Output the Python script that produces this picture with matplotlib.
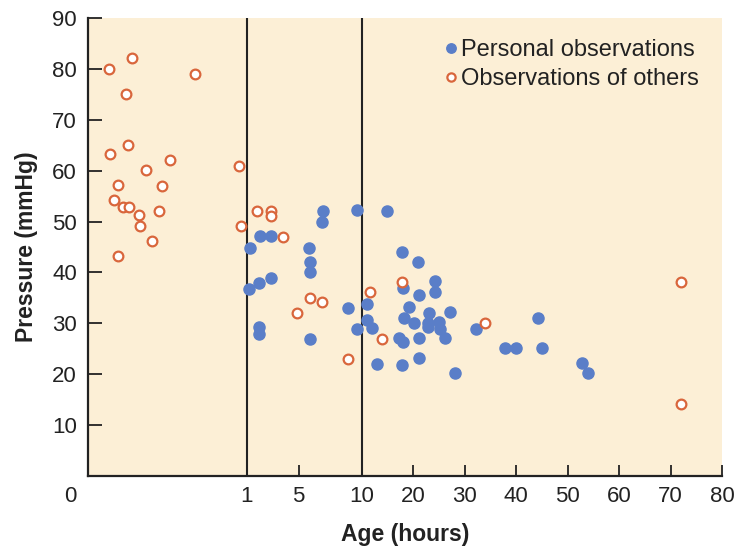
import numpy as np
import matplotlib

matplotlib.use("Agg")
import matplotlib.pyplot as plt
from matplotlib.transforms import ScaledTranslation

# -----------------------------
# DATA
# -----------------------------
personal_age = [
    1.29, 2.01, 2.88, 1.19, 1.96, 2.88, 1.94, 1.98,
    5.85, 5.88, 5.91, 5.87, 6.96, 6.88, 8.95, 9.60, 9.59,
    11.13, 11.13, 12.04, 12.95, 14.96, 17.93, 20.92, 18.01,
    24.15, 24.15, 21.04, 19.23, 18.13, 20.21, 23.12, 27.20,
    22.87, 22.87, 24.93, 25.12, 26.10, 17.29, 18.01, 21.18,
    17.93, 21.04, 28.04, 32.16, 37.90, 40.03, 44.31, 44.95,
    52.86, 53.89,
]
personal_pressure = [
    44.8, 47.2, 47.2, 36.7, 38.0, 39.0, 29.2, 27.9,
    44.9, 42.1, 40.1, 26.9, 52.0, 50.0, 33.1, 52.3, 28.9,
    33.8, 30.7, 29.1, 22.0, 52.0, 44.0, 42.1, 36.9,
    38.4, 36.2, 35.5, 33.3, 31.0, 30.1, 32.0, 32.3,
    30.1, 29.2, 30.3, 28.8, 27.2, 27.2, 26.4, 27.1,
    21.9, 23.1, 20.2, 28.9, 25.1, 25.1, 31.1, 25.2,
    22.3, 20.2,
]

others_age = [
    0.134, 0.279, 0.675, 0.238, 0.252, 0.137, 0.515, 0.366,
    0.187, 0.467, 0.164, 0.223, 0.257, 0.320, 0.330, 0.446,
    0.404, 0.187, 0.955, 0.964, 1.81, 2.84, 2.84, 3.80,
    4.84, 5.87, 6.86, 8.93, 11.56, 13.93, 17.93, 33.91,
    72.11, 72.11,
]
others_pressure = [
    80.0, 82.1, 79.0, 75.1, 65.0, 63.2, 62.0, 60.1,
    57.1, 57.0, 54.2, 52.9, 52.9, 51.3, 49.2, 52.1,
    46.2, 43.2, 61.0, 49.1, 52.1, 52.1, 51.1, 47.0,
    32.1, 35.0, 34.1, 23.0, 36.2, 27.0, 38.1, 30.0,
    38.1, 14.1,
]

x_ticks = [0, 1, 5, 10, 20, 30, 40, 50, 60, 70, 80]
y_ticks = [10, 20, 30, 40, 50, 60, 70, 80, 90]
divider_ages = [1, 10]

# piecewise axis: break points (age) and their relative widths on the axis
AGE_BREAKS = [0, 1, 5, 10, 80]
POS_BREAKS = [0, 158.5, 210.6, 273.5, 633.6]


def forward(a):
    return np.interp(a, AGE_BREAKS, POS_BREAKS)


def inverse(p):
    return np.interp(p, POS_BREAKS, AGE_BREAKS)


def main():
    plt.rcParams["font.family"] = ["Liberation Sans", "DejaVu Sans"]

    BG = "#fcefd6"
    BLUE = "#5a7ec8"
    ORANGE = "#d9663c"
    INK = "#222222"

    fig = plt.figure(figsize=(7.36, 5.48), dpi=100)
    ax = fig.add_axes([88 / 736, 72 / 548, 634 / 736, 458 / 548])
    ax.set_facecolor(BG)

    ax.set_xscale("function", functions=(forward, inverse))
    ax.set_xlim(0, 80)
    ax.set_ylim(0, 90)

    # --- dividers at 1 h and 10 h ---
    for a in divider_ages:
        ax.axvline(a, color=INK, lw=1.5, zorder=1)

    # --- scatter ---
    ax.plot(personal_age, personal_pressure, "o", ms=8, color=BLUE,
            mec=BLUE, label="Personal observations", zorder=3)
    ax.plot(others_age, others_pressure, "o", ms=7, mfc="white",
            mec=ORANGE, mew=1.6, label="Observations of others", zorder=4)

    # --- axes styling ---
    for side in ["top", "right"]:
        ax.spines[side].set_visible(False)
    for side in ["left", "bottom"]:
        ax.spines[side].set_linewidth(1.6)
        ax.spines[side].set_color(INK)

    ax.set_xticks(x_ticks)
    ax.set_xticklabels([str(t) for t in x_ticks])
    ax.set_yticks(y_ticks)
    ax.tick_params(axis="x", direction="in", length=8, width=1.3,
                   labelsize=16, pad=7, colors=INK)
    ax.tick_params(axis="y", direction="in", length=10, width=1.3,
                   labelsize=16, pad=8, colors=INK)
    ax.xaxis.set_minor_locator(matplotlib.ticker.NullLocator())

    # the "0" label sits left of the y axis
    lbl0 = ax.get_xticklabels()[0]
    lbl0.set_transform(lbl0.get_transform()
                       + ScaledTranslation(-0.18, 0, fig.dpi_scale_trans))

    ax.set_xlabel("Age (hours)", fontsize=16.5, fontweight="bold",
                  color=INK, labelpad=12)
    ax.set_ylabel("Pressure (mmHg)", fontsize=16.5, fontweight="bold",
                  color=INK, labelpad=10)

    ax.legend(loc="upper right", bbox_to_anchor=(0.99, 0.99), frameon=False,
              fontsize=17, markerscale=0.85, handlelength=0.6,
              handletextpad=0.15, labelspacing=0.3, borderaxespad=0.3,
              labelcolor=INK)

    fig.savefig("out.png", dpi=100, facecolor="white")


if __name__ == "__main__":
    main()
